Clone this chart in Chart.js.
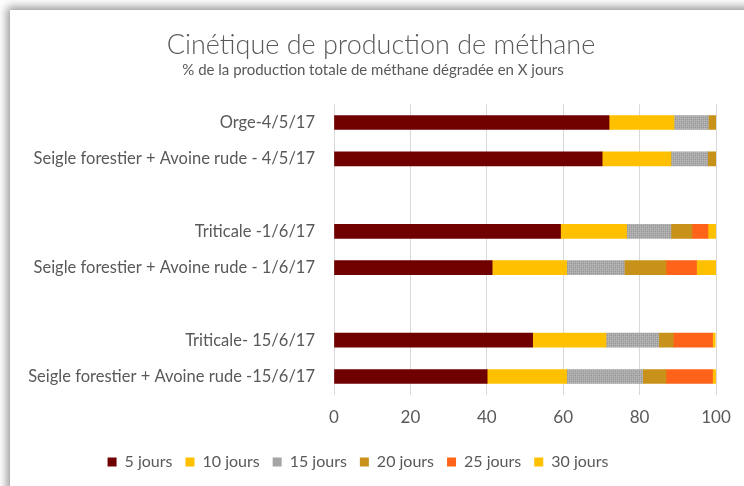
<!DOCTYPE html>
<html><head><meta charset="utf-8">
<script src="https://cdn.jsdelivr.net/npm/chart.js@4.4.1/dist/chart.umd.min.js"></script>
<style>
html,body{margin:0;padding:0;width:744px;height:486px;overflow:hidden;background:#fff}
#frame{position:absolute;left:10px;top:10px;width:760px;height:500px;background:#fff;box-shadow:0 0 9px 3px rgba(0,0,0,0.42)}
#wrap{position:absolute;left:0;top:0;width:744px;height:486px}
</style></head>
<body>
<div id="frame"></div>
<div id="wrap"><canvas id="c" width="744" height="486"></canvas></div>
<script>
const categories = ["Orge-4/5/17", "Seigle forestier + Avoine rude - 4/5/17", "", "Triticale -1/6/17", "Seigle forestier + Avoine rude - 1/6/17", "", "Triticale- 15/6/17", "Seigle forestier + Avoine rude -15/6/17"];
const seriesNames = ["5 jours", "10 jours", "15 jours", "20 jours", "25 jours", "30 jours"];
const j5  = [72.0, 70.2, null, 59.3, 41.4, null, 52.0, 40.1];
const j10 = [17.0, 18.0, null, 17.3, 19.5, null, 19.2, 20.8];
const j15 = [9.0,  9.6,  null, 11.6, 15.1, null, 13.8, 19.9];
const j20 = [2.0,  2.2,  null, 5.5,  10.9, null, 3.8,  6.1];
const j25 = [0,    0,    null, 4.2,  8.0,  null, 10.3, 12.2];
const j30 = [0,    0,    null, 2.0,  5.0,  null, 0.7,  0.8];
const xTicks = [0, 20, 40, 60, 80, 100];
const titleText = 'Cinétique de production de méthane';
const subtitleText = '% de la production totale de méthane dégradée en X jours';

function grayPattern(){
  const p = document.createElement('canvas'); p.width = 4; p.height = 4;
  const g = p.getContext('2d');
  g.fillStyle = '#a6a6a6'; g.fillRect(0,0,4,4);
  g.fillStyle = '#bcbcbc'; g.fillRect(0,0,1,1); g.fillRect(2,2,1,1); g.fillRect(2,0,1,1); g.fillRect(0,2,1,1);
  g.fillStyle = '#969696'; g.fillRect(1,1,1,1); g.fillRect(3,3,1,1);
  return document.getElementById('c').getContext('2d').createPattern(p,'repeat');
}
const colors = ['#700000', '#FFC000', grayPattern(), '#C8921A', '#FF6319', '#FFC000'];
const legendColors = ['#700000', '#FFC000', '#A5A5A5', '#C8921A', '#FF6319', '#FFC000'];
const allData = [j5, j10, j15, j20, j25, j30];
const FONT = 'Lato';
const TXT = '#595959';

// shift the title blocks horizontally (they are centred on the canvas otherwise)
const shiftTitles = {
  id: 'shiftTitles',
  afterLayout(chart) {
    chart.boxes.forEach(b => {
      if (b.options && b.options.text === titleText) { b.left += 23; b.right += 23; }
      if (b.options && b.options.text === subtitleText) { b.left += 15; b.right += 15; }
    });
  }
};

new Chart(document.getElementById('c'), {
  type: 'bar',
  data: {
    labels: categories,
    datasets: seriesNames.map((n,i)=>({
      label: n, data: allData[i], backgroundColor: colors[i], borderWidth: 0,
      barThickness: 14
    }))
  },
  plugins: [shiftTitles],
  options: {
    indexAxis: 'y', responsive: false, animation: false,
    layout: { padding: { left: 0, right: 28, top: 0, bottom: 6 } },
    plugins: {
      title: { display: true, text: titleText, color: TXT,
        font: { family: FONT, size: 27, weight: '300' }, padding: { top: 29, bottom: 0 } },
      subtitle: { display: true, text: subtitleText, color: TXT,
        font: { family: FONT, size: 15 }, padding: { top: 0, bottom: 25 } },
      legend: { position: 'bottom',
        labels: { color: TXT, font: { family: FONT, size: 16 }, boxWidth: 9, boxHeight: 9, padding: 13,
          generateLabels: (chart) => seriesNames.map((n,i)=>({ text: n, fillStyle: legendColors[i], strokeStyle: legendColors[i], lineWidth: 0, datasetIndex: i, fontColor: TXT })) } },
      tooltip: { enabled: false }
    },
    scales: {
      x: { stacked: true, min: 0, max: 100,
        afterBuildTicks: (s) => { s.ticks = xTicks.map(v=>({value:v})); },
        grid: { color: '#d9d9d9', drawTicks: false }, border: { display: false },
        ticks: { color: TXT, font: { family: FONT, size: 17 }, padding: 13 } },
      y: { stacked: true,
        afterFit: (s) => { s.width = 334; },
        grid: { display: false, drawTicks: false }, border: { display: false },
        ticks: { color: TXT, font: { family: FONT, size: 16.5 }, padding: 19, autoSkip: false } }
    }
  }
});
</script>
</body></html>
